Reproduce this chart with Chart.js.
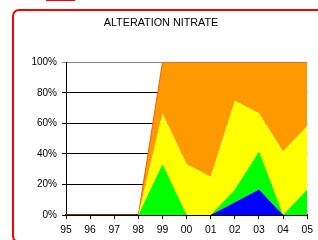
<!DOCTYPE html>
<html>
<head>
<meta charset="utf-8">
<script src="https://cdn.jsdelivr.net/npm/chart.js@4/dist/chart.umd.min.js"></script>
<style>
  html, body { margin: 0; padding: 0; background: #fff; }
  #wrap { position: relative; width: 318px; height: 240px; overflow: hidden; background: #fff; }
  #chart { position: absolute; left: 0; top: 0; }
  #frame { position: absolute; left: 12px; top: 9px; width: 330px; height: 234px;
           box-sizing: border-box; border: 2px solid #ff0000; border-radius: 7px; }
  #tab { position: absolute; left: 46px; top: 0; width: 29px; height: 1px; background: #ff0000; }
</style>
</head>
<body>
<div id="wrap">
  <div id="tab"></div>
  <div id="frame"></div>
  <canvas id="chart" width="318" height="240"></canvas>
</div>
<script>
const years = ['95', '96', '97', '98', '99', '00', '01', '02', '03', '04', '05']
// share of each class per year, in %
const blue   = [0, 0, 0, 0, 0,    0,    0,  8.3, 16.7, 0,    0]
const green  = [0, 0, 0, 0, 33.3, 0,    0,  8.3, 25,   0,    16.7]
const yellow = [0, 0, 0, 0, 33.3, 33.3, 25, 58.3, 25,   41.7, 41.7]
const orange = [0, 0, 0, 0, 33.4, 66.7, 75, 25.1, 33.3, 58.3, 41.6]
const yTicks = [0, 20, 40, 60, 80, 100]

const font = 'Liberation Sans, Arial, sans-serif'

const area = (data, color, fill, border) => ({
  data: data,
  backgroundColor: color,
  borderColor: border || color,
  borderWidth: border ? 1 : 0,
  fill: fill,
  pointRadius: 0,
  tension: 0
})

let ctx = document.getElementById('chart').getContext('2d')
let chart = new Chart(ctx, {
  type: 'line',
  data: {
    labels: years,
    datasets: [
      area(blue, '#0000ff', 'origin'),
      area(green, '#00ff00', '-1'),
      area(yellow, '#ffff00', '-1'),
      area(orange, '#ff9900', '-1', '#ff5a00')
    ]
  },
  options: {
    responsive: false,
    devicePixelRatio: 1,
    animation: false,
    layout: { padding: { left: 12, right: 8, top: 16.5, bottom: 3 } },
    plugins: {
      legend: { display: false },
      tooltip: { enabled: false },
      title: {
        display: true,
        text: 'ALTERATION NITRATE',
        color: '#000',
        font: { family: font, size: 10.8, weight: 'normal' },
        padding: { top: 0, bottom: 33 }
      }
    },
    scales: {
      x: {
        z: 1,
        offset: false,
        afterFit: (scale) => { scale.height = 22 },
        grid: { drawOnChartArea: false, color: '#000', tickLength: 4 },
        border: { color: '#000', width: 2 },
        ticks: { color: '#000', font: { family: font, size: 10.4 }, padding: 5, maxRotation: 0, autoSkip: false }
      },
      y: {
        stacked: true,
        min: 0,
        max: 100,
        afterFit: (scale) => { scale.width = 54 },
        afterBuildTicks: (scale) => { scale.ticks = yTicks.map(v => ({ value: v })) },
        grid: {
          color: (c) => c.tick && c.tick.value === 100 ? '#888888' : '#000000',
          tickLength: 4
        },
        border: { color: '#000', width: 1 },
        ticks: { color: '#000', font: { family: font, size: 10 }, padding: 5, callback: (v) => v + '%' }
      }
    }
  }
})
</script>
</body>
</html>
